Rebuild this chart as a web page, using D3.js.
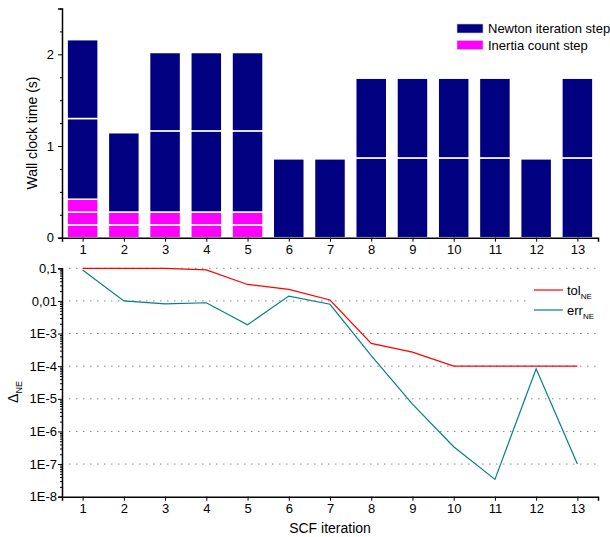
<!DOCTYPE html>
<html>
<head>
<meta charset="utf-8">
<script src="https://cdn.jsdelivr.net/npm/d3@7"></script>
<style>
  body { margin: 0; background: #fff; }
  svg { font-family: "Liberation Sans", Arial, sans-serif; }
  .axis path, .axis line { stroke: #000; }
  .axis text { font-size: 13px; fill: #000; }
</style>
</head>
<body>
<script>
var w = 610;
var h = 537;

// SCF iterations
var iterations = [1, 2, 3, 4, 5, 6, 7, 8, 9, 10, 11, 12, 13];

// wall clock time (s) per step, stacked from the bottom
var inertiaSteps = [
	[0.14, 0.14, 0.14], [0.14, 0.14], [0.14, 0.14], [0.14, 0.14], [0.14, 0.14],
	[], [], [], [], [], [], [], []
];
var newtonSteps = [
	[0.88, 0.86], [0.865], [0.885, 0.855], [0.885, 0.855], [0.885, 0.855],
	[0.86], [0.86], [0.87, 0.87], [0.87, 0.87], [0.87, 0.87], [0.87, 0.87],
	[0.86], [0.87, 0.87]
];

// Newton error tolerance and reached error
var tolNE = [0.1, 0.1, 0.1, 0.089, 0.032, 0.0227, 0.0107, 5e-4, 2.7e-4, 1e-4, 1e-4, 1e-4, 1e-4];
var errNE = [0.089, 0.01, 0.0081, 0.0088, 0.00186, 0.0141, 0.0079, 2.1e-4, 6.9e-6, 3.4e-7, 3.4e-8, 8.3e-5, 1e-7];

var logTicks = [0.1, 0.01, 1e-3, 1e-4, 1e-5, 1e-6, 1e-7, 1e-8];
var logLabels = ['0,1', '0,01', '1E-3', '1E-4', '1E-5', '1E-6', '1E-7', '1E-8'];

var navy = '#000080';
var magenta = '#ff00ff';

var svg = d3.select('body')
			.append('svg')
			.attr('width', w)
			.attr('height', h);

var x = d3.scaleLinear().domain([0.5, 13.5]).range([62, 598]);
var yTop = d3.scaleLinear().domain([0, 2.5]).range([237.7, 8.5]);
var yBot = d3.scaleLog().domain([1e-8, 0.1]).range([496.7, 268.3]);

// ---------- top: stacked bars ----------
var segments = [];
iterations.forEach(function(it, i) {
	var base = 0;
	inertiaSteps[i].forEach(function(v) {
		segments.push({ it: it, y0: base, y1: base + v, color: magenta });
		base += v;
	});
	newtonSteps[i].forEach(function(v) {
		segments.push({ it: it, y0: base, y1: base + v, color: navy });
		base += v;
	});
});

var barW = 31;
svg.append('g').selectAll('rect')
	.data(segments)
	.enter()
	.append('rect')
	.attr('x', function(d) { return x(d.it) - barW / 2; })
	.attr('y', function(d) { return yTop(d.y1); })
	.attr('width', barW)
	.attr('height', function(d) { return yTop(d.y0) - yTop(d.y1); })
	.attr('fill', function(d) { return d.color; })
	.attr('stroke', '#fff')
	.attr('stroke-width', 1.5);

svg.append('g')
	.attr('class', 'axis')
	.attr('transform', 'translate(0,' + yTop(0) + ')')
	.call(d3.axisBottom(x).tickValues(iterations).tickFormat(d3.format('d')).tickSizeOuter(0).tickSize(4).tickPadding(3));

svg.append('g')
	.attr('class', 'axis')
	.attr('transform', 'translate(' + x(0.5) + ',0)')
	.call(d3.axisLeft(yTop).tickValues([0, 1, 2]).tickFormat(d3.format('d')).tickSizeOuter(0).tickSize(4).tickPadding(4));

svg.append('g')
	.attr('class', 'axis')
	.attr('transform', 'translate(' + x(0.5) + ',0)')
	.call(d3.axisLeft(yTop).tickValues([0.25, 0.5, 0.75, 1.25, 1.5, 1.75, 2.25, 2.5]).tickFormat('').tickSizeOuter(0).tickSize(2))
	.select('.domain').remove();

svg.append('text')
	.attr('transform', 'translate(37,133) rotate(-90)')
	.attr('text-anchor', 'middle')
	.style('font-size', '14px')
	.text('Wall clock time (s)');

var legTop = [{ label: 'Newton iteration step', color: navy }, { label: 'Inertia count step', color: magenta }];
var lt = svg.append('g').selectAll('g')
	.data(legTop)
	.enter()
	.append('g')
	.attr('transform', function(d, i) { return 'translate(457,' + (24 + i * 16.5) + ')'; });
lt.append('rect')
	.attr('width', 26)
	.attr('height', 9)
	.attr('fill', function(d) { return d.color; })
	.attr('stroke', '#c8c8e8')
	.attr('stroke-width', 0.6);
lt.append('text')
	.attr('x', 31)
	.attr('y', 9.3)
	.style('font-size', '13px')
	.text(function(d) { return d.label; });

// ---------- bottom: log lines ----------
svg.append('g').selectAll('line')
	.data(logTicks.slice(0, 7))
	.enter()
	.append('line')
	.attr('x1', x(0.5) + 7)
	.attr('x2', x(13.5))
	.attr('y1', function(d) { return yBot(d); })
	.attr('y2', function(d) { return yBot(d); })
	.attr('stroke', '#888')
	.attr('stroke-width', 1)
	.attr('stroke-dasharray', '1.5,5.5');

svg.append('g')
	.attr('class', 'axis')
	.attr('transform', 'translate(0,' + yBot(1e-8) + ')')
	.call(d3.axisBottom(x).tickValues(iterations).tickFormat(d3.format('d')).tickSizeOuter(0).tickSize(4).tickPadding(3));

svg.append('g')
	.attr('class', 'axis')
	.attr('transform', 'translate(' + x(0.5) + ',0)')
	.call(d3.axisLeft(yBot).tickValues(logTicks).tickFormat(function(d, i) { return logLabels[i]; }).tickSizeOuter(0).tickSize(4).tickPadding(1));

var minor = [];
logTicks.slice(1).forEach(function(dec) {
	[2, 3, 4, 5, 6, 7, 8, 9].forEach(function(m) { minor.push(dec * m); });
});
svg.append('g')
	.attr('class', 'axis')
	.attr('transform', 'translate(' + x(0.5) + ',0)')
	.call(d3.axisLeft(yBot).tickValues(minor).tickFormat('').tickSizeOuter(0).tickSize(2))
	.select('.domain').remove();

svg.selectAll('.axis .domain').attr('stroke-width', 1.5);

var line = d3.line()
	.x(function(d, i) { return x(iterations[i]); })
	.y(function(d) { return yBot(d); });

// legend background hides grid
svg.append('rect')
	.attr('x', 527)
	.attr('y', 280)
	.attr('width', 71)
	.attr('height', 42)
	.attr('fill', '#fff');

svg.append('path')
	.datum(errNE)
	.attr('d', line)
	.attr('fill', 'none')
	.attr('stroke', '#008080')
	.attr('stroke-width', 1.2);

svg.append('path')
	.datum(tolNE)
	.attr('d', line)
	.attr('fill', 'none')
	.attr('stroke', '#ff0000')
	.attr('stroke-width', 1.2);

var legBot = [{ main: 'tol', color: '#ff0000' }, { main: 'err', color: '#008080' }];
var lb = svg.append('g').selectAll('g')
	.data(legBot)
	.enter()
	.append('g')
	.attr('transform', function(d, i) { return 'translate(534,' + (290 + i * 20) + ')'; });
lb.append('line')
	.attr('x1', 0)
	.attr('x2', 29)
	.attr('stroke', function(d) { return d.color; })
	.attr('stroke-width', 1.2);
var lbt = lb.append('text')
	.attr('x', 33)
	.attr('y', 5)
	.style('font-size', '13px');
lbt.append('tspan').text(function(d) { return d.main; });
lbt.append('tspan').attr('dy', 4).style('font-size', '8px').text('NE');

var dl = svg.append('text')
	.attr('transform', 'translate(18,392) rotate(-90)')
	.attr('text-anchor', 'middle')
	.style('font-size', '14px');
dl.append('tspan').text('\u0394');
dl.append('tspan').attr('dy', 4).style('font-size', '9px').text('NE');

svg.append('text')
	.attr('x', 330)
	.attr('y', 533)
	.attr('text-anchor', 'middle')
	.style('font-size', '14px')
	.text('SCF iteration');
</script>
</body>
</html>
